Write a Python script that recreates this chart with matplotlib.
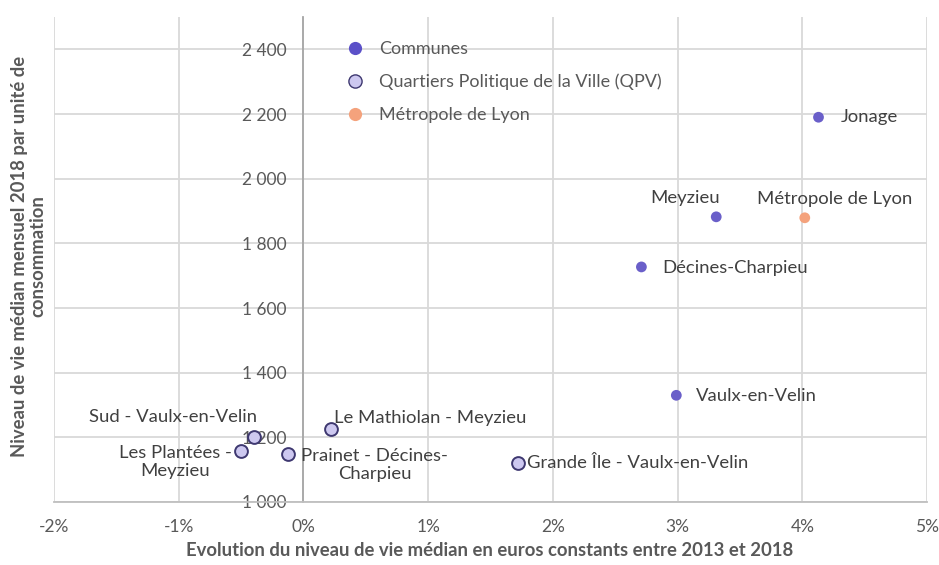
import matplotlib
matplotlib.use("Agg")
import matplotlib.pyplot as plt
from matplotlib.ticker import FuncFormatter, MultipleLocator
from matplotlib.lines import Line2D

plt.rcParams['font.family'] = ['Lato', 'DejaVu Sans']

# Communes
communes = ["Jonage", "Meyzieu", "Décines-Charpieu", "Vaulx-en-Velin"]
communes_x = [4.13, 3.31, 2.71, 2.99]
communes_y = [2190, 1882, 1727, 1330]

# Quartiers Politique de la Ville
qpv = ["Le Mathiolan - Meyzieu", "Sud - Vaulx-en-Velin", "Les Plantées -\nMeyzieu",
       "Prainet - Décines-\nCharpieu", "Grande Île - Vaulx-en-Velin"]
qpv_x = [0.22, -0.40, -0.50, -0.12, 1.72]
qpv_y = [1226, 1201, 1158, 1149, 1120]

# Métropole
metro = ["Métropole de Lyon"]
metro_x = [4.02]
metro_y = [1879]

legend_labels = ["Communes", "Quartiers Politique de la Ville (QPV)", "Métropole de Lyon"]

c_comm = "#6a5fc9"
c_qpv = "#cdc8f0"
c_qpv_edge = "#3e3870"
c_metro = "#f4a27c"
txt = "#404040"
tick_c = "#595959"

fig = plt.figure(figsize=(9.39, 5.65), dpi=100)
ax = fig.add_axes([54/939, 1-502/565, 873/939, 485/565])

ax.set_xlim(-2, 5)
ax.set_ylim(1000, 2500)
ax.xaxis.set_major_locator(MultipleLocator(1))
ax.set_yticks(range(1000, 2401, 200))
ax.xaxis.set_major_formatter(FuncFormatter(lambda v, p: f"{v:.0f}%"))
ax.yaxis.set_major_formatter(FuncFormatter(lambda v, p: f"{v:,.0f}".replace(",", " ")))
ax.grid(True, color="#d9d9d9", linewidth=1.3, zorder=0)
ax.set_axisbelow(True)
for s in ["top", "right"]:
    ax.spines[s].set_visible(False)
ax.spines["left"].set_position(("data", 0))
ax.spines["left"].set_color("#a6a6a6")
ax.spines["left"].set_linewidth(1.3)
ax.spines["bottom"].set_color("#bfbfbf")
ax.spines["bottom"].set_linewidth(1.3)
ax.tick_params(axis="both", length=0, labelsize=12.5, labelcolor=tick_c)
ax.tick_params(axis="y", pad=12)
ax.tick_params(axis="x", pad=12)

ax.scatter(communes_x, communes_y, s=60, color=c_comm, edgecolors="none", zorder=3)
ax.scatter(qpv_x, qpv_y, s=85, color=c_qpv, edgecolors=c_qpv_edge, linewidths=1.4, zorder=3)
ax.scatter(metro_x, metro_y, s=60, color=c_metro, edgecolors="none", zorder=3)

fs = 13.3
# offsets in pixels (converted to points)
def ann(label, x, y, dx, dy, ha, va="center", ma="center"):
    ax.annotate(label, (x, y), xytext=(dx*0.72, -dy*0.72), textcoords="offset points",
                ha=ha, va=va, fontsize=fs, color=txt, multialignment=ma, zorder=4)

comm_off = {"Jonage": (22, 0, "left"), "Meyzieu": (-31, -19, "center"),
            "Décines-Charpieu": (21, 1, "left"), "Vaulx-en-Velin": (20, 1, "left")}
for n, x, y in zip(communes, communes_x, communes_y):
    dx, dy, ha = comm_off[n]
    ann(n, x, y, dx, dy, ha)
for n, x, y in zip(metro, metro_x, metro_y):
    ann(n, x, y, 30, -19, "center")
qpv_off = {qpv[0]: (3, -11, "left"), qpv[1]: (3, -20, "right"),
           qpv[2]: (-66, 11, "center"), qpv[3]: (86, 11, "center"),
           qpv[4]: (9, 0, "left")}
for n, x, y in zip(qpv, qpv_x, qpv_y):
    dx, dy, ha = qpv_off[n]
    ann(n, x, y, dx, dy, ha)

handles = [
    Line2D([], [], marker="o", linestyle="none", markersize=9.5, markerfacecolor="#5b50c8", markeredgecolor="none"),
    Line2D([], [], marker="o", linestyle="none", markersize=9.5, markerfacecolor=c_qpv, markeredgecolor=c_qpv_edge, markeredgewidth=1.0),
    Line2D([], [], marker="o", linestyle="none", markersize=9.5, markerfacecolor=c_metro, markeredgecolor="none"),
]
leg = ax.legend(handles, legend_labels, loc="upper left", bbox_to_anchor=((344-54)/873, (502-41)/485),
                frameon=False, fontsize=13, labelspacing=0.93, handletextpad=0.75, handlelength=1.2,
                borderpad=0, borderaxespad=0)
for t in leg.get_texts():
    t.set_color(tick_c)

fig.text(29/939, 1-256/565, "Niveau de vie médian mensuel 2018 par unité de\nconsommation",
         rotation=90, ha="center", va="center", multialignment="center", linespacing=1.1,
         fontsize=13.3, fontweight="bold", color=tick_c)
fig.text(490/939, 1-551/565, "Evolution du niveau de vie médian en euros constants entre 2013 et 2018",
         ha="center", va="center", fontsize=13.3, fontweight="bold", color=tick_c)

fig.savefig("out.png", dpi=100)
